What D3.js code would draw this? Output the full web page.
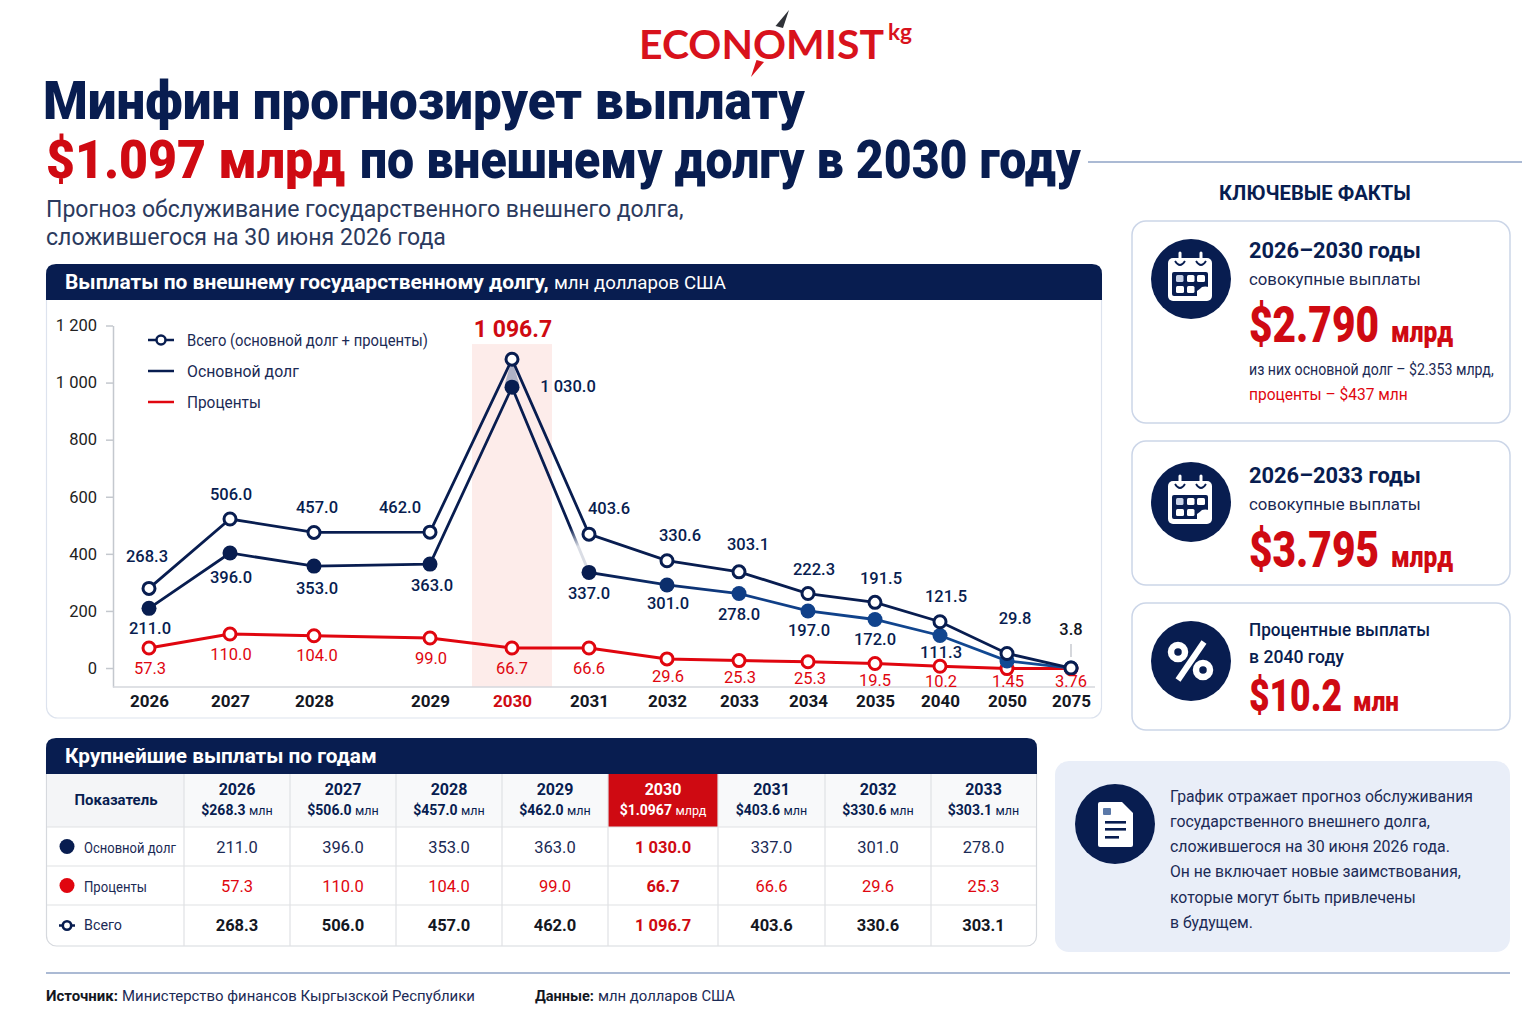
<!DOCTYPE html>
<html>
<head>
<meta charset="utf-8">
<script src="https://cdn.jsdelivr.net/npm/d3@7"></script>
<style>
  html, body { margin: 0; padding: 0; background: #fff; }
  svg { display: block; }
  text { font-family: Roboto, "Noto Sans", sans-serif; }
</style>
</head>
<body>
<svg id="chart" width="1536" height="1024"></svg>
<script>
const years = ["2026","2027","2028","2029","2030","2031","2032","2033","2034","2035","2040","2050","2075"];
const yTicks = [0, 200, 400, 600, 800, 1000, 1200];

// values as the marks sit in the picture; the printed labels below don't always agree with them
const totalValues = [279, 522, 475, 476, 1082, 469, 376, 337, 261, 230, 162, 51, 0];
const principalValues = [209, 403, 357, 364, 984, 335, 291, 261, 200, 170, 114, 25, 0];
const interestValues = [70, 119, 113, 105, 70, 70, 32, 26, 22, 16, 6, -2, -2];

const totalLabels = ["268.3","506.0","457.0","462.0","1 096.7","403.6","330.6","303.1","222.3","191.5","121.5","29.8","3.8"];
const principalLabels = ["211.0","396.0","353.0","363.0","1 030.0","337.0","301.0","278.0","197.0","172.0","111.3","",""];
const interestLabels = ["57.3","110.0","104.0","99.0","66.7","66.6","29.6","25.3","25.3","19.5","10.2","1.45","3.76"];

const tableYears = ["2026","2027","2028","2029","2030","2031","2032","2033"];
const tableTotals = ["$268.3","$506.0","$457.0","$462.0","$1.0967","$403.6","$330.6","$303.1"];
const tableUnits = ["млн","млн","млн","млн","млрд","млн","млн","млн"];
const tablePrincipal = ["211.0","396.0","353.0","363.0","1 030.0","337.0","301.0","278.0"];
const tableInterest = ["57.3","110.0","104.0","99.0","66.7","66.6","29.6","25.3"];
const tableTotal = ["268.3","506.0","457.0","462.0","1 096.7","403.6","330.6","303.1"];

const noteLines = [
  "График отражает прогноз обслуживания",
  "государственного внешнего долга,",
  "сложившегося на 30 июня 2026 года.",
  "Он не включает новые заимствования,",
  "которые могут быть привлечены",
  "в будущем."
];

const NAVY = "#081d50", RED = "#e0060f", DEEPRED = "#cf0a12", INK = "#1b2a55";

const svg = d3.select("#chart");
const defs = svg.append("defs");

// text helper, w squeezes the string sideways to the width it has in the picture
function label(parent, x, y, str, o = {}) {
  const t = parent.append("text")
    .attr("x", x).attr("y", y)
    .attr("font-size", o.size || 16)
    .attr("font-weight", o.weight || 400)
    .attr("fill", o.fill || INK)
    .attr("text-anchor", o.anchor || "start")
    .style("font-family", o.font || null)
    .text(str);
  if (o.w) {
    const k = o.w / t.node().getComputedTextLength();
    t.attr("x", 0).attr("y", 0).attr("transform", `translate(${x},${y}) scale(${k},1)`);
  }
  return t;
}

function roundTop(x, y, w, h, r) {
  return `M${x},${y + h}V${y + r}Q${x},${y} ${x + r},${y}H${x + w - r}Q${x + w},${y} ${x + w},${y + r}V${y + h}Z`;
}

function card(x, y, w, h) {
  svg.append("rect").attr("x", x).attr("y", y).attr("width", w).attr("height", h)
    .attr("rx", 14).attr("fill", "#fff").attr("stroke", "#ccd6e8").attr("stroke-width", 1.5);
}

/* ---------- logo ---------- */
label(svg, 639, 59, "ECONOMIST", { size: 41, weight: 700, fill: "#d8121c", w: 245, font: "Lato" });
label(svg, 888, 40, "kg", { size: 23, weight: 700, fill: "#d8121c", w: 24, font: "Lato" });
svg.append("path").attr("d", "M789,10L775.5,26L783,28Z").attr("fill", "#2f3238");
svg.append("path").attr("d", "M751,77L756.5,60L764,62Z").attr("fill", "#d8121c");

/* ---------- title ---------- */
label(svg, 43, 119, "Минфин прогнозирует выплату", { size: 54, weight: 900, fill: NAVY, w: 762 });
label(svg, 46, 178, "$1.097 млрд", { size: 54, weight: 900, fill: DEEPRED, w: 299 });
label(svg, 360, 178, "по внешнему долгу в 2030 году", { size: 54, weight: 900, fill: NAVY, w: 721 });
svg.append("line").attr("x1", 1088).attr("x2", 1522).attr("y1", 162).attr("y2", 162)
  .attr("stroke", "#8fa3c6").attr("stroke-width", 1.5);
label(svg, 46, 217, "Прогноз обслуживание государственного внешнего долга,", { size: 23, fill: "#2b3a5e", w: 638 });
label(svg, 46, 245, "сложившегося на 30 июня 2026 года", { size: 23, fill: "#2b3a5e", w: 400 });

/* ---------- line chart ---------- */
svg.append("rect").attr("x", 46.5).attr("y", 270).attr("width", 1055).attr("height", 448)
  .attr("rx", 11).attr("fill", "#fff").attr("stroke", "#dde3ee").attr("stroke-width", 1.2);
svg.append("path").attr("d", roundTop(46, 264, 1056, 36, 10)).attr("fill", NAVY);
label(svg, 65, 289, "Выплаты по внешнему государственному долгу,", { size: 20, weight: 700, fill: "#fff", w: 484 });
label(svg, 554, 289, "млн долларов США", { size: 18, fill: "#fff", w: 172 });

const x = d3.scaleOrdinal()
  .domain(years)
  .range([149, 230, 314, 430, 512, 589, 667, 739, 808, 875, 940, 1007, 1071]);
const y = d3.scaleLinear().domain([-66.5, 1200]).range([687, 325.5]);

const bandTop = y(1135);
svg.append("rect").attr("x", x("2030") - 40).attr("width", 80)
  .attr("y", bandTop).attr("height", y(-66.5) - bandTop).attr("fill", "#fdecea");

const yAxis = svg.append("g").attr("transform", "translate(113,0)")
  .call(d3.axisLeft(y).tickValues(yTicks).tickSize(7).tickSizeOuter(0)
    .tickFormat(d => d >= 1000 ? d3.format(",")(d).replace(",", " ") : d));
yAxis.selectAll("path,line").attr("stroke", "#c4c8ce").attr("stroke-width", 1.5);
yAxis.selectAll("text").attr("font-size", 16.5).attr("fill", "#222").attr("dx", -6);

svg.append("line").attr("x1", 113).attr("x2", 1095).attr("y1", 687).attr("y2", 687)
  .attr("stroke", "#d4d7dc").attr("stroke-width", 1.5);
const xAxis = svg.append("g").attr("transform", "translate(0,687)")
  .call(d3.axisBottom(x).tickSize(0).tickPadding(8));
xAxis.select(".domain").remove();
xAxis.selectAll("text").attr("font-size", 17).attr("font-weight", 700)
  .attr("fill", d => d === "2030" ? DEEPRED : "#14171f");

// principal line drifts from navy to a lighter blue after 2031
const blueShift = d3.scaleLinear().domain([589, 739, 1071]).range([NAVY, "#0f3d85", "#124c96"]).clamp(true);
const grad = defs.append("linearGradient").attr("id", "principalLine").attr("gradientUnits", "userSpaceOnUse")
  .attr("x1", 149).attr("x2", 1071).attr("y1", 0).attr("y2", 0);
[149, 589, 739, 1071].forEach(px => grad.append("stop")
  .attr("offset", (px - 149) / (1071 - 149)).attr("stop-color", blueShift(px)));

const line = d3.line().x((d, i) => x(years[i])).y(d => y(d));

svg.append("path").datum(interestValues).attr("d", line).attr("fill", "none").attr("stroke", RED).attr("stroke-width", 3);
svg.selectAll(".interest").data(interestValues).enter().append("circle").attr("class", "interest")
  .attr("cx", (d, i) => x(years[i])).attr("cy", d => y(d)).attr("r", 6)
  .attr("fill", "#fff").attr("stroke", RED).attr("stroke-width", 3);

// soft wedge between the two peaks
const peakX = x("2030"), peakTop = y(totalValues[4]), peakLow = y(principalValues[4]);
svg.append("path").attr("d", `M${peakX},${peakTop}L${peakX - 7},${peakLow - 4}H${peakX + 7}Z`)
  .attr("fill", "#7c8cad").attr("opacity", 0.6);

svg.append("path").datum(principalValues).attr("d", line).attr("fill", "none").attr("stroke", "url(#principalLine)").attr("stroke-width", 2.8);

// the drop to 2031 fades out before it reaches the point
const dropX = d3.interpolate(peakX, x("2031")), dropY = d3.interpolate(peakLow, y(principalValues[5]));
const fade = defs.append("linearGradient").attr("id", "dropFade").attr("gradientUnits", "userSpaceOnUse")
  .attr("x1", dropX(0.76)).attr("y1", dropY(0.76)).attr("x2", dropX(0.86)).attr("y2", dropY(0.86));
fade.append("stop").attr("offset", 0).attr("stop-color", "#fff").attr("stop-opacity", 0);
fade.append("stop").attr("offset", 1).attr("stop-color", "#fff").attr("stop-opacity", 0.85);
svg.append("line").attr("x1", dropX(0.76)).attr("y1", dropY(0.76)).attr("x2", dropX(1)).attr("y2", dropY(1))
  .attr("stroke", "url(#dropFade)").attr("stroke-width", 5);

svg.selectAll(".principal").data(principalValues).enter().append("circle").attr("class", "principal")
  .attr("cx", (d, i) => x(years[i])).attr("cy", d => y(d)).attr("r", 7.5)
  .attr("fill", (d, i) => blueShift(x(years[i])));

svg.append("path").datum(totalValues).attr("d", line).attr("fill", "none").attr("stroke", NAVY).attr("stroke-width", 2.8);
svg.selectAll(".total").data(totalValues).enter().append("circle").attr("class", "total")
  .attr("cx", (d, i) => x(years[i])).attr("cy", d => y(d)).attr("r", 6)
  .attr("fill", "#fff").attr("stroke", NAVY).attr("stroke-width", 3);

// label nudges from each point, per series
const totalNudge = [[-2,-32],[1,-25],[3,-25],[-30,-25],[1,-30],[20,-26],[13,-25],[9,-27],[6,-24],[6,-24],[6,-25],[8,-35],[0,-39]];
const principalNudge = [[1,20],[1,25],[3,22],[2,21],[56,-1],[0,21],[1,19],[0,21],[1,20],[0,20],[1,17],[0,0],[0,0]];
const interestNudge = [[1,20],[1,20],[3,20],[1,20],[0,20],[0,20],[1,18],[1,17],[2,17],[0,17],[1,15],[1,13],[0,13]];

function pointLabels(labels, values, nudge, fill, weight) {
  labels.forEach((t, i) => {
    if (!t) return;
    const isPeak = t === "1 096.7";
    label(svg, x(years[i]) + nudge[i][0], y(values[i]) + nudge[i][1] + (isPeak ? 8 : 5.5), t, {
      size: isPeak ? 23 : 16.5, weight: isPeak ? 700 : weight, fill: isPeak ? DEEPRED : (t === "3.8" ? "#14171f" : fill), anchor: "middle"
    });
  });
}
pointLabels(totalLabels, totalValues, totalNudge, NAVY, 500);
pointLabels(principalLabels, principalValues, principalNudge, NAVY, 500);
pointLabels(interestLabels, interestValues, interestNudge, RED, 400);
svg.append("line").attr("x1", x("2075")).attr("x2", x("2075")).attr("y1", 644).attr("y2", 657)
  .attr("stroke", "#b9bdc4").attr("stroke-width", 1.2);

// legend
const legendY = [340, 371, 402];
svg.append("line").attr("x1", 148).attr("x2", 174).attr("y1", legendY[0]).attr("y2", legendY[0]).attr("stroke", NAVY).attr("stroke-width", 2.5);
svg.append("circle").attr("cx", 161).attr("cy", legendY[0]).attr("r", 4.5).attr("fill", "#fff").attr("stroke", NAVY).attr("stroke-width", 2.5);
svg.append("line").attr("x1", 148).attr("x2", 174).attr("y1", legendY[1]).attr("y2", legendY[1]).attr("stroke", NAVY).attr("stroke-width", 2.5);
svg.append("line").attr("x1", 148).attr("x2", 174).attr("y1", legendY[2]).attr("y2", legendY[2]).attr("stroke", RED).attr("stroke-width", 2.5);
label(svg, 187, 346, "Всего (основной долг + проценты)", { size: 16, w: 241 });
label(svg, 187, 377, "Основной долг", { size: 16, w: 112 });
label(svg, 187, 408, "Проценты", { size: 16, w: 74 });

/* ---------- key facts ---------- */
label(svg, 1315, 200, "КЛЮЧЕВЫЕ ФАКТЫ", { size: 20, weight: 700, fill: NAVY, anchor: "middle", w: 192 });
card(1132, 221, 378, 202);
card(1132, 441, 378, 144);
card(1132, 603, 378, 127);

function calendarIcon(cx, cy) {
  const g = svg.append("g").attr("transform", `translate(${cx},${cy})`);
  g.append("circle").attr("cx", 1).attr("r", 40).attr("fill", NAVY);
  g.append("rect").attr("x", -22).attr("y", -21).attr("width", 44).attr("height", 43).attr("rx", 5).attr("fill", "#fff");
  [-10, 11].forEach(dx => {
    g.append("line").attr("x1", dx).attr("x2", dx).attr("y1", -26).attr("y2", -17).attr("stroke", "#fff").attr("stroke-width", 3).attr("stroke-linecap", "round");
    g.append("path").attr("d", `M${dx - 5},-18Q${dx},-10 ${dx + 5},-18`).attr("fill", "none").attr("stroke", NAVY).attr("stroke-width", 1.8);
  });
  g.append("rect").attr("x", -18).attr("y", -7).attr("width", 36).attr("height", 24).attr("rx", 2).attr("fill", NAVY);
  [[-14,-4,7.5,"#c9d3e8"],[-3,-4,7.5,"#fff"],[7,-4,8,"#fff"],[-14,7,8,"#fff"],[-3,7,7.5,"#fff"]].forEach(c => {
    g.append("rect").attr("x", c[0]).attr("y", c[1]).attr("width", c[2]).attr("height", 7).attr("rx", 1.5).attr("fill", c[3]);
  });
  g.append("path").attr("d", "M7,18V12Q10,10 12,8Q15,7 19,8V18Z").attr("fill", "#fff");
}
calendarIcon(1190, 279);
calendarIcon(1190, 502);

label(svg, 1249, 258, "2026–2030 годы", { size: 22, weight: 700, fill: NAVY, w: 172 });
label(svg, 1249, 285, "совокупные выплаты", { size: 17, w: 172 });
label(svg, 1249, 342, "$2.790", { size: 50, weight: 900, fill: DEEPRED, w: 130 });
label(svg, 1391, 342, "млрд", { size: 29, weight: 900, fill: DEEPRED, w: 62 });
label(svg, 1249, 375, "из них основной долг – $2.353 млрд,", { size: 16, w: 245 });
label(svg, 1249, 400, "проценты – $437 млн", { size: 16, fill: RED, w: 159 });

label(svg, 1249, 483, "2026–2033 годы", { size: 22, weight: 700, fill: NAVY, w: 172 });
label(svg, 1249, 510, "совокупные выплаты", { size: 17, w: 172 });
label(svg, 1249, 567, "$3.795", { size: 50, weight: 900, fill: DEEPRED, w: 130 });
label(svg, 1391, 567, "млрд", { size: 29, weight: 900, fill: DEEPRED, w: 62 });

svg.append("circle").attr("cx", 1191).attr("cy", 661).attr("r", 40).attr("fill", NAVY);
svg.append("circle").attr("cx", 1178).attr("cy", 652).attr("r", 7).attr("fill", "none").attr("stroke", "#fff").attr("stroke-width", 6.5);
svg.append("circle").attr("cx", 1203).attr("cy", 670).attr("r", 7).attr("fill", "none").attr("stroke", "#fff").attr("stroke-width", 6.5);
svg.append("line").attr("x1", 1204).attr("y1", 642).attr("x2", 1178).attr("y2", 680).attr("stroke", "#fff").attr("stroke-width", 6);

label(svg, 1249, 636, "Процентные выплаты", { size: 18, weight: 500, fill: NAVY, w: 181 });
label(svg, 1249, 663, "в 2040 году", { size: 18, weight: 500, fill: NAVY, w: 95 });
label(svg, 1249, 711, "$10.2", { size: 45, weight: 900, fill: DEEPRED, w: 93 });
label(svg, 1353, 711, "млн", { size: 27, weight: 900, fill: DEEPRED, w: 46 });

/* ---------- note ---------- */
svg.append("rect").attr("x", 1055).attr("y", 761).attr("width", 455).attr("height", 191).attr("rx", 14).attr("fill", "#e9eef8");
svg.append("circle").attr("cx", 1115).attr("cy", 824).attr("r", 40).attr("fill", NAVY);
svg.append("path").attr("d", "M1100,802H1122L1133,813V845Q1133,847 1131,847H1100Q1098,847 1098,845V804Q1098,802 1100,802Z").attr("fill", "#fff");
svg.append("rect").attr("x", 1103).attr("y", 808).attr("width", 8).attr("height", 7).attr("rx", 1).attr("fill", "#5a78a8");
[[822, 21], [829, 21], [837, 14]].forEach(l => svg.append("rect").attr("x", 1105).attr("y", l[0] - 1)
  .attr("width", l[1]).attr("height", 2.6).attr("fill", NAVY));
const noteWidths = [303, 260, 280, 291, 246, 83];
const noteBase = [802, 827, 852, 877, 903, 928];
noteLines.forEach((t, i) => label(svg, 1170, noteBase[i], t, { size: 17, w: noteWidths[i] }));

/* ---------- table ---------- */
const colEdges = [184, 290, 396, 502, 608, 718, 825, 931, 1036];
const rowEdges = [774, 827, 866, 905, 946];
const colMid = d3.pairs(colEdges).map(p => (p[0] + p[1]) / 2);
const rowMid = d3.pairs(rowEdges).map(p => (p[0] + p[1]) / 2);

svg.append("rect").attr("x", 46.5).attr("y", 750).attr("width", 990).attr("height", 196)
  .attr("rx", 10).attr("fill", "#fff").attr("stroke", "#d6d9de").attr("stroke-width", 1.2);
svg.append("path").attr("d", roundTop(46, 738, 991, 36, 10)).attr("fill", NAVY);
label(svg, 65, 763, "Крупнейшие выплаты по годам", { size: 20, weight: 700, fill: "#fff", w: 312 });

svg.append("rect").attr("x", 47).attr("y", 774).attr("width", 137).attr("height", 53).attr("fill", "#f4f5f7");
svg.append("rect").attr("x", 184).attr("y", 774).attr("width", 852).attr("height", 53).attr("fill", "#f8f9fa");
const hotCol = tableYears.indexOf("2030");
svg.append("rect").attr("x", colEdges[hotCol]).attr("y", 774)
  .attr("width", colEdges[hotCol + 1] - colEdges[hotCol]).attr("height", 53).attr("fill", DEEPRED);

rowEdges.slice(1, -1).forEach(ry => svg.append("line").attr("x1", 47).attr("x2", 1036).attr("y1", ry).attr("y2", ry)
  .attr("stroke", "#dfe1e4").attr("stroke-width", 1.2));
colEdges.slice(0, -1).forEach(cx => svg.append("line").attr("x1", cx).attr("x2", cx).attr("y1", 774).attr("y2", 946)
  .attr("stroke", "#dfe1e4").attr("stroke-width", 1.2));

label(svg, 116, 805, "Показатель", { size: 15, weight: 700, fill: NAVY, anchor: "middle", w: 83 });

tableYears.forEach((yr, i) => {
  const hot = i === hotCol;
  label(svg, colMid[i], 795, yr, { size: 16, weight: 700, fill: hot ? "#fff" : NAVY, anchor: "middle" });
  const t = label(svg, colMid[i], 815, "", { size: 14, weight: 700, fill: hot ? "#fff" : NAVY, anchor: "middle" });
  t.append("tspan").text(tableTotals[i] + " ");
  t.append("tspan").attr("font-size", 12.5).attr("font-weight", 400).text(tableUnits[i]);
  label(svg, colMid[i], rowMid[1] + 6, tablePrincipal[i], { size: 16.5, weight: hot ? 700 : 400, fill: hot ? DEEPRED : INK, anchor: "middle" });
  label(svg, colMid[i], rowMid[2] + 6, tableInterest[i], { size: 16.5, weight: hot ? 700 : 400, fill: hot ? DEEPRED : RED, anchor: "middle" });
  label(svg, colMid[i], rowMid[3] + 5, tableTotal[i], { size: 16.5, weight: 700, fill: hot ? DEEPRED : "#14171f", anchor: "middle" });
});

svg.append("circle").attr("cx", 67).attr("cy", rowMid[1]).attr("r", 7.5).attr("fill", NAVY);
svg.append("circle").attr("cx", 67).attr("cy", rowMid[2]).attr("r", 7.5).attr("fill", RED);
svg.append("line").attr("x1", 59).attr("x2", 75).attr("y1", rowMid[3]).attr("y2", rowMid[3]).attr("stroke", NAVY).attr("stroke-width", 2.5);
svg.append("circle").attr("cx", 67).attr("cy", rowMid[3]).attr("r", 4.2).attr("fill", "#fff").attr("stroke", NAVY).attr("stroke-width", 2.6);
label(svg, 84, rowMid[1] + 6, "Основной долг", { size: 15, w: 92 });
label(svg, 84, rowMid[2] + 6, "Проценты", { size: 15, w: 63 });
label(svg, 84, rowMid[3] + 4.5, "Всего", { size: 15, w: 38 });

/* ---------- footer ---------- */
svg.append("line").attr("x1", 46).attr("x2", 1510).attr("y1", 973).attr("y2", 973)
  .attr("stroke", "#8fa3c6").attr("stroke-width", 1.5);
label(svg, 46, 1001, "Источник:", { size: 15, weight: 700, fill: "#14171f", w: 72 });
label(svg, 122, 1001, "Министерство финансов Кыргызской Республики", { size: 15, w: 353 });
label(svg, 535, 1001, "Данные:", { size: 15, weight: 700, fill: "#14171f", w: 59 });
label(svg, 598, 1001, "млн долларов США", { size: 15, w: 137 });
</script>
</body>
</html>
